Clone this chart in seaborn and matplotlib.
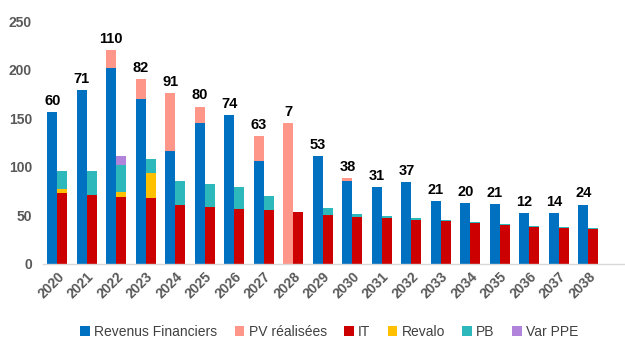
import numpy as np
import pandas as pd
import seaborn as sns
import matplotlib
matplotlib.use("Agg")
import matplotlib.pyplot as plt
from matplotlib.patches import Patch

# Years on the x axis
years = [str(y) for y in range(2020, 2039)]

# Left bar: financial income + realised gains
revenus_financiers = [156, 179, 202, 170, 116, 145, 153, 106, 0, 111, 85, 79, 84, 65, 63, 62, 52, 52, 61]
pv_realisees = [0, 0, 18, 20, 60, 17, 0, 26, 145, 0, 3, 0, 0, 0, 0, 0, 0, 0, 0]

# Right bar: allocations
it = [73, 71, 69, 68, 61, 59, 57, 55, 53, 50, 48.5, 47, 45, 44, 42, 40, 38.5, 37, 36]
revalo = [4, 0, 5, 26, 0, 0, 0, 0, 0, 0, 0, 0, 0, 0, 0, 0, 0, 0, 0]
pb = [19, 25, 28, 14, 24, 23, 22, 15, 0, 8, 2.5, 2, 2, 1.5, 1.5, 1, 1, 0.8, 0.8]
var_ppe = [0, 0, 9, 0, 0, 0, 0, 0, 0, 0, 0, 0, 0, 0, 0, 0, 0, 0, 0]

# Values printed above each group
margin_labels = [60, 71, 110, 82, 91, 80, 74, 63, 7, 53, 38, 31, 37, 21, 20, 21, 12, 14, 24]

colors = {
    "Revenus Financiers": "#0070C0",
    "PV réalisées": "#FF968A",
    "IT": "#CC0000",
    "Revalo": "#FFC000",
    "PB": "#2DB8BC",
    "Var PPE": "#B283DA",
}

sns.set_theme(style="white")
plt.rcParams["font.family"] = ["Liberation Sans", "DejaVu Sans"]

# Cumulative stack tops per side
left_layers = [("Revenus Financiers", revenus_financiers), ("PV réalisées", pv_realisees)]
right_layers = [("IT", it), ("Revalo", revalo), ("PB", pb), ("Var PPE", var_ppe)]

rows = []
for side, layers in (("L", left_layers), ("R", right_layers)):
    cum = np.zeros(len(years))
    for name, vals in layers:
        cum = cum + np.array(vals, dtype=float)
        for yr, top in zip(years, cum):
            rows.append({"year": yr, "side": side, "series": name, "top": top})
df = pd.DataFrame(rows)

fig = plt.figure(figsize=(6.25, 3.45), dpi=100)
ax = fig.add_axes([0.069, 0.235, 0.931, 0.704])

# Draw the stacks from the highest layer down so lower layers cover upper ones
draw_order = ["Var PPE", "PB", "Revalo", "PV réalisées", "IT", "Revenus Financiers"]
for name in draw_order:
    sub = df[df["series"] == name]
    full = pd.concat([
        sub,
        pd.DataFrame({"year": years, "side": "R" if sub["side"].iloc[0] == "L" else "L",
                      "series": name, "top": 0.0}),
    ])
    sns.barplot(data=full, x="year", y="top", hue="side", hue_order=["L", "R"],
                order=years, palette={"L": colors[name], "R": colors[name]},
                width=0.68, dodge=True, saturation=1, errorbar=None,
                legend=False, ax=ax, linewidth=0)

# Labels above the left bars
left_tot = np.array(revenus_financiers) + np.array(pv_realisees)
for i, (lab, top) in enumerate(zip(margin_labels, left_tot)):
    ax.annotate(str(lab), xy=(i - 0.17, top), xytext=(0, 3), textcoords="offset points",
                ha="center", va="bottom", fontsize=10.5, fontweight="bold", color="black")

ax.set_xlim(-0.48, 19.24)
ax.set_ylim(0, 250)
ax.set_yticks([0, 50, 100, 150, 200, 250])
ax.set_xlabel("")
ax.set_ylabel("")
for s in ["top", "right", "left"]:
    ax.spines[s].set_visible(False)
ax.spines["bottom"].set_color("#D9D9D9")
ax.spines["bottom"].set_linewidth(1)
ax.tick_params(axis="both", length=0, colors="#595959", labelsize=10)
ax.tick_params(axis="y", pad=8)
for t in ax.get_yticklabels():
    t.set_fontweight("bold")
ax.set_xticks(range(len(years)))
ax.set_xticklabels(years, rotation=45, ha="right", rotation_mode="anchor",
                   fontweight="bold", color="#595959", fontsize=10)
ax.tick_params(axis="x", pad=4)

handles = [Patch(facecolor=colors[n], edgecolor="none", label=n) for n in colors]
fig.legend(handles=handles, loc="center", bbox_to_anchor=(0.527, 0.038), ncol=6,
           frameon=False, fontsize=10, handlelength=0.7, handleheight=0.7,
           handletextpad=0.3, columnspacing=1.25, labelcolor="#404040")

fig.savefig("out.png", dpi=100)
